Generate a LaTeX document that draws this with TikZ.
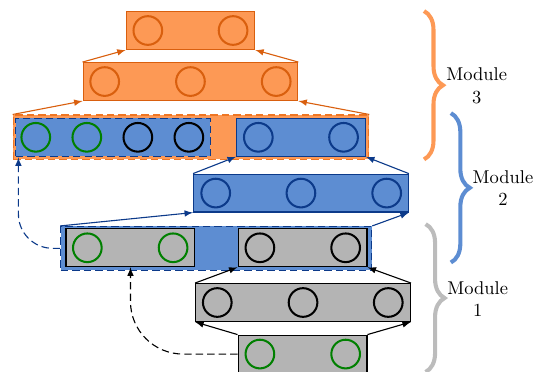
\documentclass[tikz,border=0pt]{standalone}
\usetikzlibrary{decorations.pathreplacing}

\definecolor{orfill}{RGB}{253,153,85}
\definecolor{ordraw}{RGB}{217,95,14}
\definecolor{ordash}{RGB}{238,118,36}
\definecolor{blfill}{RGB}{93,141,210}
\definecolor{bldraw}{RGB}{12,58,138}
\definecolor{grfill}{RGB}{180,180,180}
\definecolor{grbrace}{RGB}{188,188,188}
\definecolor{unitgreen}{RGB}{0,128,0}

\begin{document}
\begin{tikzpicture}[
    obox/.style={draw=ordraw, fill=orfill, semithick, minimum height=0.72cm, inner sep=0pt},
    bbox/.style={draw=bldraw, fill=blfill, semithick, minimum height=0.72cm, inner sep=0pt},
    gbox/.style={draw=black, fill=grfill, semithick, minimum height=0.72cm, inner sep=0pt},
    unit/.style={circle, line width=1.1pt, minimum size=0.545cm, inner sep=0pt},
    longdash/.style={dash pattern=on 4pt off 2.2pt},
    oarrow/.style={-latex, ordraw, semithick},
    barrow/.style={-latex, bldraw, semithick},
    karrow/.style={-latex, black, semithick},
    modbrace/.style={decorate, decoration={brace, amplitude=0.36cm}, line width=2.2pt},
]
    \useasboundingbox (0,0) rectangle (10.15,7.07);

    % module 3
    \node[obox, minimum width=2.44cm] (m3top) at (3.62, 6.49) {};
    \node[unit, draw=ordraw] (m3top1) at (2.81, 6.49) {};
    \node[unit, draw=ordraw] (m3top2) at (4.43, 6.49) {};

    \node[obox, minimum width=4.08cm] (m3mid) at (3.62, 5.52) {};
    \node[unit, draw=ordraw] (m3mid1) at (1.99, 5.52) {};
    \node[unit, draw=ordraw] (m3mid2) at (3.62, 5.52) {};
    \node[unit, draw=ordraw] (m3mid3) at (5.25, 5.52) {};

    \node[draw=ordash, fill=orfill, longdash, thick, minimum width=6.75cm, minimum height=0.84cm] (m3in) at (3.63, 4.46) {};

    % concatenated input of module 3
    \node[bbox, longdash, minimum width=3.70cm] (m2cat) at (2.15, 4.46) {};
    \node[unit, draw=unitgreen] (m2cat1) at (0.68, 4.46) {};
    \node[unit, draw=unitgreen] (m2cat2) at (1.65, 4.46) {};
    \node[unit, draw=black] (m2cat3) at (2.62, 4.46) {};
    \node[unit, draw=black] (m2cat4) at (3.59, 4.46) {};

    % module 2
    \node[bbox, minimum width=2.45cm] (m2top) at (5.72, 4.46) {};
    \node[unit, draw=bldraw] (m2top1) at (4.91, 4.46) {};
    \node[unit, draw=bldraw] (m2top2) at (6.53, 4.46) {};

    \node[bbox, minimum width=4.08cm] (m2mid) at (5.72, 3.40) {};
    \node[unit, draw=bldraw] (m2mid1) at (4.10, 3.40) {};
    \node[unit, draw=bldraw] (m2mid2) at (5.72, 3.40) {};
    \node[unit, draw=bldraw] (m2mid3) at (7.35, 3.40) {};

    \node[draw=bldraw, fill=blfill, longdash, semithick, minimum width=5.91cm, minimum height=0.83cm] (m2in) at (4.11, 2.35) {};

    % module 1
    \node[gbox, minimum width=2.45cm] (m1skip) at (2.48, 2.36) {};
    \node[unit, draw=unitgreen] (m1skip1) at (1.66, 2.36) {};
    \node[unit, draw=unitgreen] (m1skip2) at (3.29, 2.36) {};

    \node[gbox, minimum width=2.45cm] (m1top) at (5.75, 2.36) {};
    \node[unit, draw=black] (m1top1) at (4.94, 2.36) {};
    \node[unit, draw=black] (m1top2) at (6.57, 2.36) {};

    \node[gbox, minimum width=4.08cm] (m1mid) at (5.76, 1.32) {};
    \node[unit, draw=black] (m1mid1) at (4.13, 1.32) {};
    \node[unit, draw=black] (m1mid2) at (5.76, 1.32) {};
    \node[unit, draw=black] (m1mid3) at (7.38, 1.32) {};

    \node[gbox, minimum width=2.45cm] (m1in) at (5.75, 0.34) {};
    \node[unit, draw=unitgreen] (m1in1) at (4.94, 0.34) {};
    \node[unit, draw=unitgreen] (m1in2) at (6.57, 0.34) {};

    % connections between layers
    \draw[oarrow] (m3mid.north west) -- (m3top.south west);
    \draw[oarrow] (m3mid.north east) -- (m3top.south east);
    \draw[oarrow] (m3in.north west) -- (m3mid.south west);
    \draw[oarrow] (m3in.north east) -- (m3mid.south east);

    \draw[barrow] (m2mid.north west) -- (m2top.south west);
    \draw[barrow] (m2mid.north east) -- (m2top.south east);
    \draw[barrow] (m2in.north west) -- (m2mid.south west);
    \draw[barrow] (m2in.north east) -- (m2mid.south east);

    \draw[karrow] (m1mid.north west) -- (m1top.south west);
    \draw[karrow] (m1mid.north east) -- (m1top.south east);
    \draw[karrow] (m1in.north west) -- (m1mid.south west);
    \draw[karrow] (m1in.north east) -- (m1mid.south east);

    % skip connections
    \coordinate (m2catin) at (0.35, 4.08);
    \draw[barrow, longdash, rounded corners=0.65cm] (m2in.west) -| (m2catin);
    \draw[karrow, longdash, rounded corners=1cm] (m1in.west) -| (m1skip.south);

    % braces
    \draw[modbrace, orfill] (8.06, 6.86) -- (8.06, 4.04);
    \node[align=center] (mod3) at (9.06, 5.44) {Module\\3};

    \draw[modbrace, blfill] (8.57, 4.92) -- (8.57, 2.08);
    \node[align=center] (mod2) at (9.56, 3.49) {Module\\2};

    \draw[modbrace, grbrace] (8.09, 2.81) -- (8.09, 0.0);
    \node[align=center] (mod1) at (9.08, 1.39) {Module\\1};
\end{tikzpicture}
\end{document}
